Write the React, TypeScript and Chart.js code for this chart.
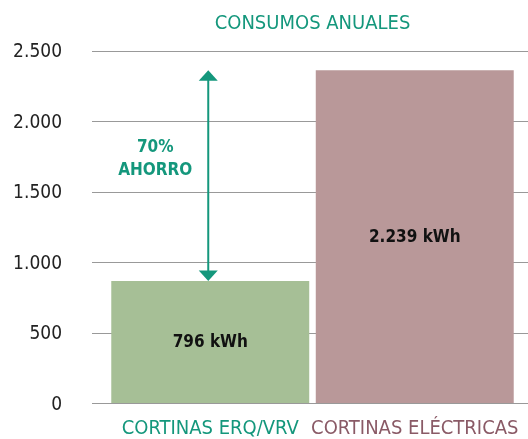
import React, { useEffect, useRef } from "react";
import { Chart, registerables } from "chart.js";

Chart.register(...registerables);

const categories = ["CORTINAS ERQ/VRV", "CORTINAS ELÉCTRICAS"];
const consumption = [865, 2360];
const valueLabels = ["796 kWh", "2.239 kWh"];
const barColors = ["#a6bf96", "#b99899"];
const categoryColors = ["#14977c", "#8a5a66"];
const savingLines = ["70%", "AHORRO"];
const titleText = "CONSUMOS ANUALES";
const yMax = 2500;
const yStep = 500;

const TEAL = "#14977c";
const FONT = "'DejaVu Sans Condensed', 'Liberation Sans Narrow', sans-serif";

const fmt = (v: number) => String(v).replace(/\B(?=(\d{3})+(?!\d))/g, ".");

export default function App() {
  const ref = useRef<HTMLCanvasElement | null>(null);
  useEffect(() => {
    if (!ref.current) return;
    const gridPlugin = {
      id: "extGrid",
      beforeDatasetsDraw(chart: any) {
        const { ctx } = chart;
        const y = chart.scales.y;
        ctx.save();
        ctx.strokeStyle = "#999999";
        ctx.lineWidth = 1.2;
        y.ticks.forEach((t: any) => {
          const py = Math.round(y.getPixelForValue(t.value)) + 0.5;
          ctx.beginPath();
          ctx.moveTo(92, py);
          ctx.lineTo(chart.width, py);
          ctx.stroke();
        });
        ctx.restore();
      },
      afterDatasetsDraw(chart: any) {
        const { ctx } = chart;
        const meta = chart.getDatasetMeta(0);
        const y = chart.scales.y;
        ctx.save();
        ctx.textAlign = "center";
        ctx.textBaseline = "middle";
        ctx.fillStyle = "#111";
        ctx.font = `bold 17px ${FONT}`;
        meta.data.forEach((bar: any, i: number) => {
          const cy = (bar.y + bar.base) / 2;
          ctx.fillText(valueLabels[i], bar.x, cy + 1);
        });
        // arrow
        const ax = meta.data[0].x - 2;
        const yTop = y.getPixelForValue(consumption[1]);
        const yBot = y.getPixelForValue(consumption[0]);
        ctx.strokeStyle = TEAL;
        ctx.fillStyle = TEAL;
        ctx.lineWidth = 2;
        ctx.beginPath();
        ctx.moveTo(ax, yTop + 8);
        ctx.lineTo(ax, yBot - 8);
        ctx.stroke();
        const hw = 9.5, hh = 10.5;
        ctx.beginPath();
        ctx.moveTo(ax, yTop);
        ctx.lineTo(ax - hw, yTop + hh);
        ctx.lineTo(ax + hw, yTop + hh);
        ctx.closePath();
        ctx.fill();
        ctx.beginPath();
        ctx.moveTo(ax, yBot);
        ctx.lineTo(ax - hw, yBot - hh);
        ctx.lineTo(ax + hw, yBot - hh);
        ctx.closePath();
        ctx.fill();
        // saving text
        ctx.font = `bold 17px ${FONT}`;
        ctx.fillText(savingLines[0], ax - 53, 148);
        ctx.fillText(savingLines[1], ax - 53, 171);
        ctx.restore();
      },
    };
    const chart = new Chart(ref.current, {
      type: "bar",
      data: {
        labels: categories,
        datasets: [
          {
            data: consumption,
            backgroundColor: barColors,
            borderWidth: 0,
            categoryPercentage: 1,
            barPercentage: 0.968,
          },
        ],
      },
      options: {
        animation: false,
        responsive: false,
        maintainAspectRatio: false,
        layout: { padding: { left: 0, right: 11, top: 0, bottom: 0 } },
        plugins: {
          legend: { display: false },
          tooltip: { enabled: false },
          title: {
            display: true,
            text: titleText,
            fullSize: false,
            color: TEAL,
            font: { family: FONT, size: 20, weight: "normal" },
            padding: { top: 12, bottom: 14.5 },
          },
        },
        scales: {
          x: {
            grid: { display: false, drawTicks: false },
            border: { display: false },
            ticks: {
              color: (c: any) => categoryColors[c.index],
              font: { family: FONT, size: 20 },
              padding: 14,
              maxRotation: 0,
              autoSkip: false,
            },
            afterFit: (s: any) => {
              s.height = 36;
              s.paddingLeft = 0;
              s.paddingRight = 0;
            },
          },
          y: {
            min: 0,
            max: yMax,
            grid: { display: false, drawTicks: false },
            border: { display: false },
            ticks: {
              stepSize: yStep,
              color: "#222",
              font: { family: FONT, size: 19 },
              padding: 46,
              labelOffset: 2,
              callback: (v: any) => fmt(Number(v)),
            },
            afterFit: (s: any) => {
              s.width = 108;
              s.paddingTop = 0;
              s.paddingBottom = 0;
            },
          },
        },
      },
      plugins: [gridPlugin],
    });
    return () => chart.destroy();
  }, []);
  return (
    <div style={{ position: "fixed", left: 0, top: 0, width: 528, height: 439, background: "#fff" }}>
      <canvas ref={ref} width={528} height={439} style={{ width: 528, height: 439, display: "block" }} />
    </div>
  );
}
